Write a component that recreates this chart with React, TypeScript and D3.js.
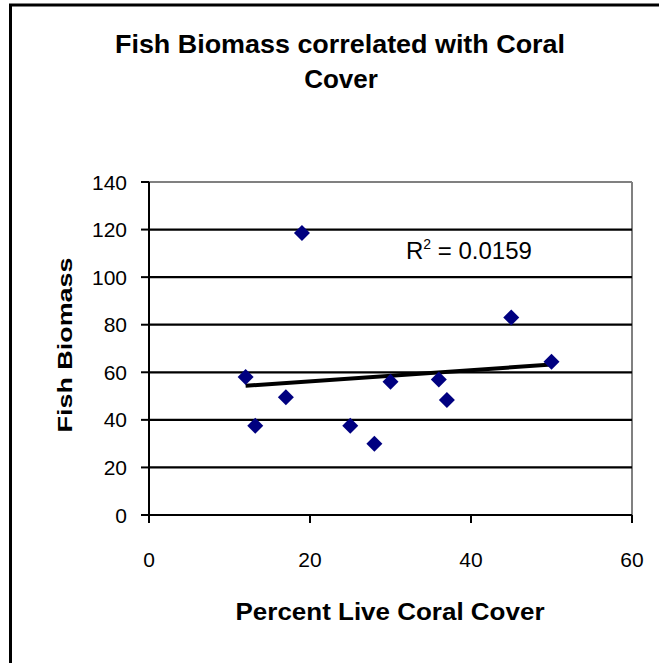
import React from "react";
import * as d3 from "d3";

const coralCover = [12, 13.2, 17, 19, 25, 28, 30, 36, 37, 45, 50];
const fishBiomass = [58, 37.5, 49.5, 118.6, 37.5, 30, 56, 57, 48.3, 83, 64.4];
const xTicks = [0, 20, 40, 60];
const yTicks = [0, 20, 40, 60, 80, 100, 120, 140];
const titleLines = ["Fish Biomass correlated with Coral", "Cover"];
const xLabel = "Percent Live Coral Cover";
const yLabel = "Fish Biomass";
const r2Text = "0.0159";

const W = 659;
const H = 663;
const FONT = "'Liberation Sans', Arial, sans-serif";

export default function App() {
  const x = d3.scaleLinear().domain([0, 60]).range([149, 632]);
  const y = d3.scaleLinear().domain([0, 140]).range([515, 182]);

  const pts = coralCover.map((c, i) => ({ c, f: fishBiomass[i] }));
  const mx = d3.mean(coralCover) as number;
  const my = d3.mean(fishBiomass) as number;
  const sxy = d3.sum(pts, (p) => (p.c - mx) * (p.f - my));
  const sxx = d3.sum(pts, (p) => (p.c - mx) ** 2);
  const slope = sxy / sxx;
  const icpt = my - slope * mx;
  const [x0, x1] = d3.extent(coralCover) as [number, number];
  const trend = d3.line<number>().x((v) => x(v)).y((v) => y(icpt + slope * v))([x0, x1]);

  const diamond = d3.symbol().type(d3.symbolSquare).size(128)();

  return (
    <svg
      width={W}
      height={H}
      style={{ position: "absolute", left: 0, top: 0, background: "#fff" }}
    >
      <rect x={0} y={0} width={W} height={H} fill="#fff" />
      <rect x={10.5} y={5} width={800} height={800} fill="none" stroke="#000" strokeWidth={3} />

      {/* title */}
      <text
        x={340}
        y={53}
        textAnchor="middle"
        fontFamily={FONT}
        fontWeight="bold"
        fontSize={26}
        textLength={450}
        lengthAdjust="spacingAndGlyphs"
      >
        {titleLines[0]}
      </text>
      <text x={341} y={88} textAnchor="middle" fontFamily={FONT} fontWeight="bold" fontSize={26}>
        {titleLines[1]}
      </text>

      {/* frame */}
      <line x1={x(0)} x2={x(60)} y1={y(140)} y2={y(140)} stroke="#808080" strokeWidth={2} />
      <line x1={x(60)} x2={x(60)} y1={y(140)} y2={y(0)} stroke="#808080" strokeWidth={2} />

      {/* gridlines */}
      {yTicks
        .filter((t) => t > 0 && t < 140)
        .map((t) => (
          <line key={"g" + t} x1={x(0)} x2={x(60)} y1={y(t)} y2={y(t)} stroke="#000" strokeWidth={2.2} />
        ))}

      {/* axes */}
      <line x1={x(0)} x2={x(0)} y1={y(140)} y2={y(0)} stroke="#000" strokeWidth={2} />
      <line x1={x(0)} x2={x(60)} y1={y(0)} y2={y(0)} stroke="#000" strokeWidth={2.2} />
      {yTicks.map((t) => (
        <g key={"yt" + t}>
          <line x1={x(0) - 8} x2={x(0)} y1={y(t)} y2={y(t)} stroke="#000" strokeWidth={2} />
          <text
            x={127}
            y={y(t) + 7.5}
            textAnchor="end"
            fontFamily={FONT}
            fontSize={21}
          >
            {t}
          </text>
        </g>
      ))}
      {xTicks.map((t) => (
        <g key={"xt" + t}>
          <line x1={x(t)} x2={x(t)} y1={y(0)} y2={y(0) + 8} stroke="#000" strokeWidth={2} />
          <text x={x(t)} y={567} textAnchor="middle" fontFamily={FONT} fontSize={21}>
            {t}
          </text>
        </g>
      ))}

      {/* axis labels */}
      <text
        x={390}
        y={620}
        textAnchor="middle"
        fontFamily={FONT}
        fontWeight="bold"
        fontSize={24}
        textLength={309}
        lengthAdjust="spacingAndGlyphs"
      >
        {xLabel}
      </text>
      <text
        transform={`translate(72,345) rotate(-90)`}
        textAnchor="middle"
        fontFamily={FONT}
        fontWeight="bold"
        fontSize={21}
        textLength={175}
        lengthAdjust="spacingAndGlyphs"
      >
        {yLabel}
      </text>

      {/* trendline */}
      <path d={trend || ""} fill="none" stroke="#000" strokeWidth={4} />

      {/* points */}
      {pts.map((p, i) => (
        <path
          key={"p" + i}
          d={diamond || ""}
          transform={`translate(${x(p.c)},${y(p.f)}) rotate(45)`}
          fill="#000080"
        />
      ))}

      {/* R squared */}
      <text x={406} y={259} fontFamily={FONT} fontSize={24}>
        R
        <tspan fontSize={14} dy={-10}>2</tspan>
        <tspan dy={10}>{" = " + r2Text}</tspan>
      </text>
    </svg>
  );
}
